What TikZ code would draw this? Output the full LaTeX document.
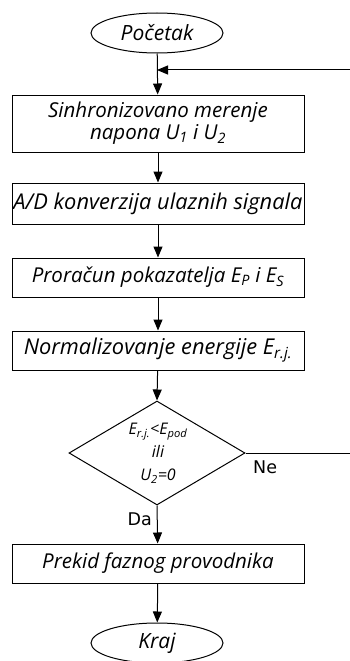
\documentclass[tikz,border=0pt]{standalone}
\usepackage{fontspec}
\setmainfont{Open Sans}
\newfontfamily\lblfont{DejaVu Sans}
\usetikzlibrary{shapes.geometric,arrows.meta}
\tikzset{
  ln/.style={line width=1pt},
  arr/.style={ln,-{Triangle[width=9pt,length=11pt]}},
  procbox/.style={draw,ln,rectangle,minimum width=292pt,inner sep=0pt,font=\fontsize{20.5}{22}\selectfont\itshape,align=center},
  bigtext/.style={font=\fontsize{21.8}{22}\selectfont\itshape},
  term/.style={draw,ln,ellipse,minimum width=132pt,minimum height=40pt,inner sep=0pt,font=\fontsize{21}{22}\selectfont\itshape},
  lbl/.style={font=\lblfont\fontsize{17.5}{20}\selectfont,inner sep=0pt}
}
\begin{document}
\begin{tikzpicture}[x=1pt,y=-1pt]
\useasboundingbox (0,0) rectangle (350,661);
\node[term] (start) at (157,33) {Početak};
\node[procbox,minimum height=57pt] (b1) at (158,123.5) {Sinhronizovano merenje\\napona U\textsubscript{1} i U\textsubscript{2}};
\node[procbox,bigtext,minimum height=41pt] (b2) at (158,203.5) {A/D konverzija ulaznih signala};
\node[procbox,minimum height=39pt] (b3) at (158,277.5) {Proračun pokazatelja E\textsubscript{P} i E\textsubscript{S}};
\node[procbox,bigtext,minimum height=39pt] (b4) at (158,350.5) {Normalizovanje energije E\textsubscript{r.j.}};
\node[draw,ln,diamond,minimum width=176pt,minimum height=104pt,inner sep=0pt] (d) at (157,453) {};
\node[font=\fontsize{16}{23}\selectfont\itshape,align=center,inner sep=0pt] (dt) at (158,453) {E\textsubscript{r.j.}<E\textsubscript{pod}\\ili\\U\textsubscript{2}=0};
\node[procbox,minimum height=39pt] (b5) at (158,563.5) {Prekid faznog provodnika};
\node[term] (end) at (157,643) {Kraj};
\coordinate (fbin) at (350,70);
\coordinate (fbj) at (157,70);
\coordinate (neout) at (350,453);
\draw[arr] (start) -- (b1);
\draw[arr] (fbin) -- (fbj);
\draw[arr] (b1) -- (b2);
\draw[arr] (b2) -- (b3);
\draw[arr] (b3) -- (b4);
\draw[arr] (b4) -- (d.north);
\draw[ln] (d.east) -- (neout);
\draw[arr] (d.south) -- (b5);
\draw[arr] (b5) -- (end);
\node[lbl,anchor=base west] (ne) at (253,473) {Ne};
\node[lbl,anchor=base east] (da) at (152,525) {Da};
\end{tikzpicture}
\end{document}
